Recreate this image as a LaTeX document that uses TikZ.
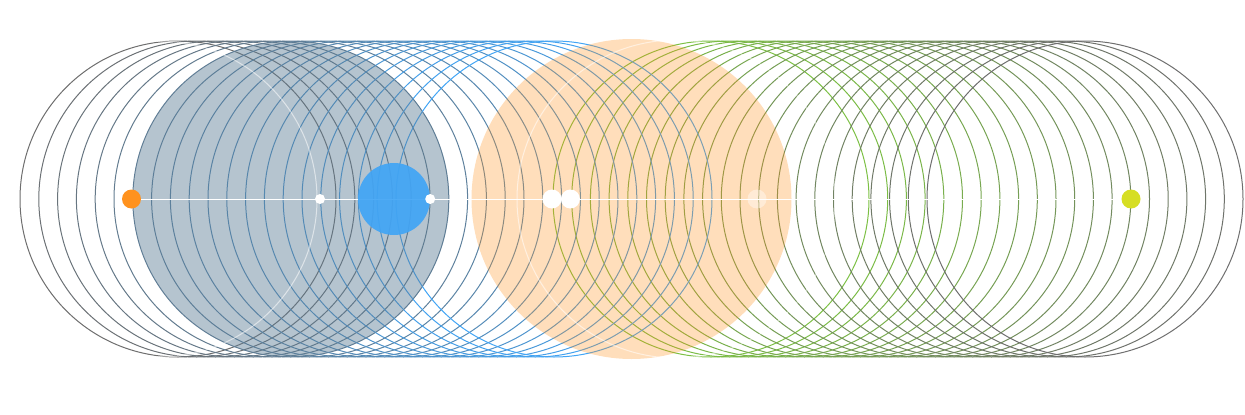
\documentclass[tikz,border=0pt]{standalone}
\usetikzlibrary{positioning}
\definecolor{ringgray}{RGB}{110,110,110}
\definecolor{skyblue}{RGB}{66,165,245}
\definecolor{leafgreen}{RGB}{124,192,68}
\definecolor{slate}{RGB}{92,124,148}
\definecolor{amber}{RGB}{255,146,30}
\definecolor{lime}{RGB}{214,222,35}

\begin{document}
\begin{tikzpicture}[x=1pt,y=-1pt,
    ring/.style={line width=1pt},
    halo/.style={white,opacity=0.55,line width=1pt},
    dot/.style={circle,fill=white,inner sep=0pt,minimum size=#1},
    dot/.default=19pt]
  \useasboundingbox (0,0) rectangle (1245,415);
  % two sets of equal rings, coloured by index
  \foreach \k in {0,...,20} {
    \pgfmathtruncatemacro\p{5*\k}
    \draw[ring,skyblue!\p!ringgray] (178+18.8*\k,199) circle[radius=158pt];
    \draw[ring,ringgray!\p!leafgreen] (711+18.7*\k,199) circle[radius=158pt];
  }
  \fill[slate,opacity=0.45] (291,199) circle[radius=158pt];
  \fill[amber,opacity=0.3] (631.5,199) circle[radius=160pt];
  \draw[halo] (159,199) circle[radius=158pt];
  \draw[halo] (676,199) circle[radius=159pt];
  % track with its markers
  \node[dot,fill=amber] (start) at (131.5,199) {};
  \node[dot,fill=lime] (stop) at (1131,199) {};
  \draw[white,line width=1pt] (start) -- (stop);
  \node[dot=72pt,fill=skyblue,opacity=0.93] (planet) at (394,199) {};
  \node[dot=10pt] (inner) at (320,199) {};
  \node[dot=10pt] (outer) at (planet.east) {};
  \node[dot] (twinA) at (552,199) {};
  \node[dot,right=-1pt of twinA] (twinB) {};
  \node[dot,opacity=0.4] (ghost) at (757,199) {};
\end{tikzpicture}
\end{document}
